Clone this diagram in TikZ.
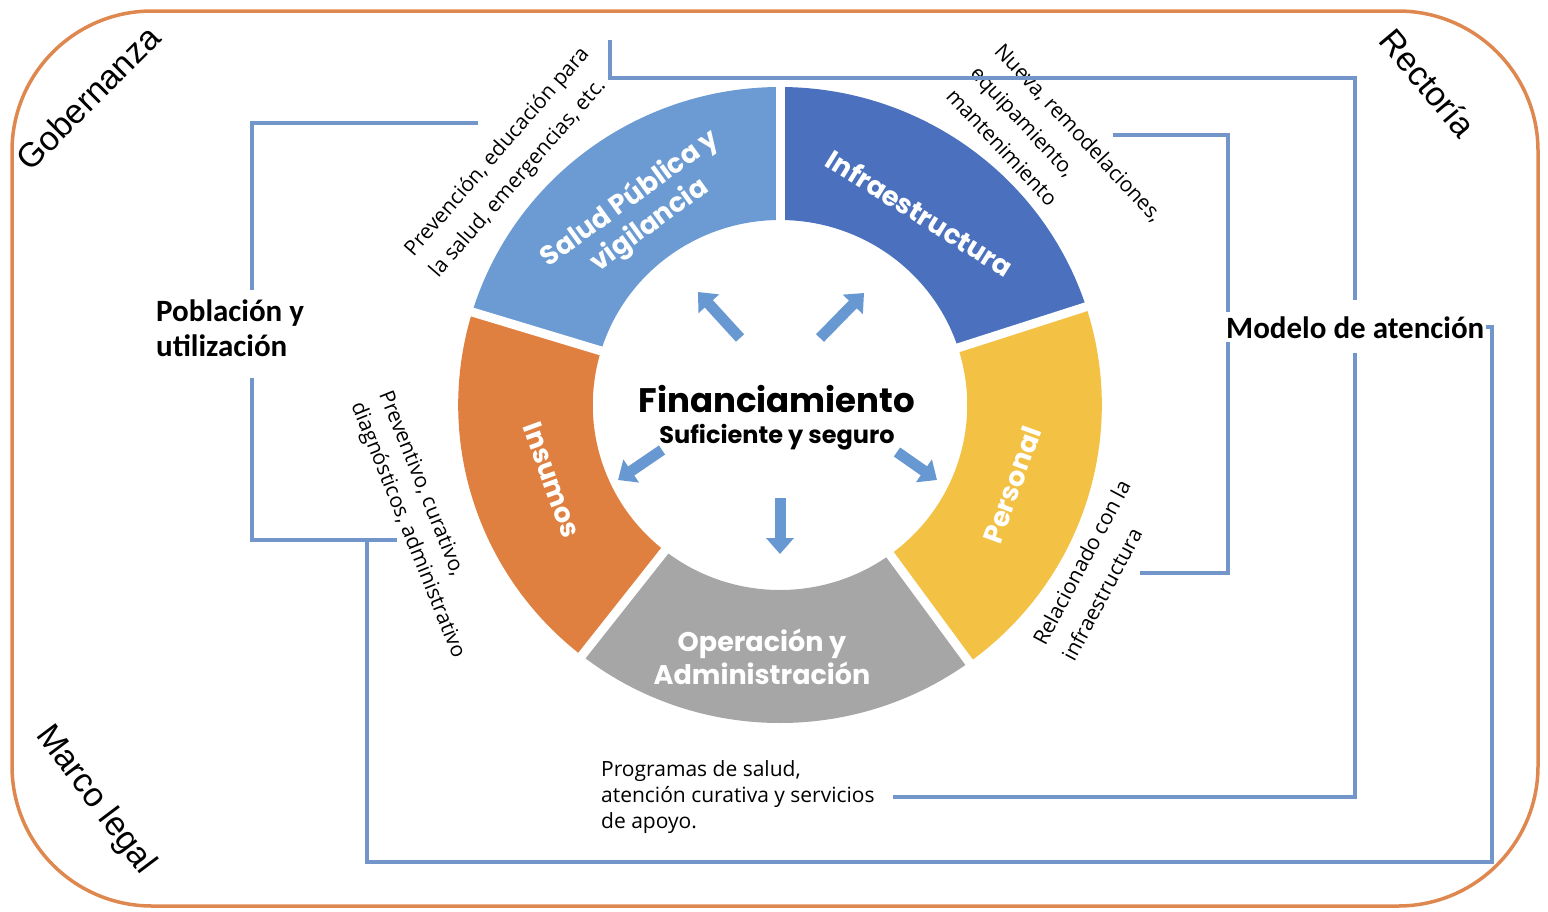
\documentclass[tikz,border=0pt]{standalone}
\usepackage{fontspec}
\setmainfont{Open Sans}
\newfontfamily\popfont{Poppins}
\newfontfamily\calfont{Carlito}
\newfontfamily\arialfont{Liberation Sans}
\usetikzlibrary{arrows.meta}

\definecolor{saludcol}{RGB}{107,155,210}
\definecolor{infracol}{RGB}{74,112,190}
\definecolor{personalcol}{RGB}{243,194,68}
\definecolor{opercol}{RGB}{166,166,166}
\definecolor{insumoscol}{RGB}{224,128,64}
\definecolor{linkcol}{RGB}{114,150,202}
\definecolor{framecol}{RGB}{222,136,80}
\definecolor{arrowcol}{RGB}{104,152,210}

\tikzset{
  segtext/.style={text=white, font=\popfont\bfseries\fontsize{27}{33}\selectfont,
                  align=center, inner sep=0},
  note/.style={font=\fontsize{21}{26}\selectfont, align=left, inner sep=0},
  slantnote/.style={note, font=\fontsize{21}{33}\selectfont},
  corner/.style={font=\arialfont\fontsize{34}{40}\selectfont, inner sep=0},
  keyword/.style={font=\calfont\bfseries\fontsize{31}{35}\selectfont,
                  align=left, inner sep=0},
  link/.style={draw=linkcol, line width=3.5pt},
  fatarrow/.style={draw=arrowcol, line width=11pt,
                   -{Triangle[width=27pt,length=16pt]}}
}

\begin{document}
\begin{tikzpicture}[x=1pt,y=-1pt]
    \useasboundingbox (0,0) rectangle (1548,911);

    % frame
    \draw[framecol, line width=3.5pt, rounded corners=140pt] (12,11) rectangle (1538,906);

    % ring
    \begin{scope}[shift={(780,405)}, x=1.012pt, y=1pt]
        \foreach \a/ \b/ \c in {18/90/infracol, 90/163/saludcol, 163/232/insumoscol,
                                232/306/opercol, 306/378/personalcol}
            \fill[\c] (\a:318) arc[start angle=\a, end angle=\b, radius=318]
                -- (\b:185) arc[start angle=\b, end angle=\a, radius=185] -- cycle;

        \foreach \a in {18,90,163,232,306}
            \draw[white, line width=9pt] (\a:170) -- (\a:330);
    \end{scope}

    % segment labels
    \node[segtext, rotate=36] (salud) at (640,212) {Salud Pública y\\vigilancia};
    \node[segtext, rotate=-32] (infra) at (920,213) {Infraestructura};
    \node[segtext, rotate=70] (personal) at (1012,485) {Personal};
    \node[segtext, rotate=-70] (insumos) at (552,480) {Insumos};
    \node[segtext] (oper) at (762,657) {Operación y\\Administración};

    % centre
    \node[font=\popfont\bfseries\fontsize{34}{40}\selectfont, inner sep=0] (fin) at (777,399) {Financiamiento};
    \node[font=\popfont\bfseries\fontsize{24}{28}\selectfont, inner sep=0] (seguro) at ([yshift=-38pt]fin.center) {Suficiente y seguro};

    \coordinate (ul) at (740,338);  \coordinate (ultip) at (698,292);
    \coordinate (ur) at (820,338);  \coordinate (urtip) at (864,293);
    \coordinate (le) at (662,450);  \coordinate (letip) at (618,480);
    \coordinate (ri) at (897,452);  \coordinate (ritip) at (937,480);
    \coordinate (do) at (780,498);  \coordinate (dotip) at (780,554);
    \foreach \s in {ul,ur,le,ri,do}
        \draw[fatarrow] (\s) -- (\s tip);

    % notes
    \node[slantnote, rotate=49] (prev) at (510,163) {Prevención, educación para\\la salud, emergencias, etc.};
    \node[slantnote, rotate=-47] (nueva) at (1055,155) {Nueva, remodelaciones,\\equipamiento,\\mantenimiento};
    \node[note, font=\fontsize{21}{30}\selectfont, rotate=-68] (preven) at (421,525) {Preventivo, curativo,\\diagnósticos, administrativo};
    \node[slantnote, rotate=62] (relac) at (1096,570) {Relacionado con la\\infraestructura};
    \node[note, anchor=north west] (prog) at (601,760) {Programas de salud,\\atención curativa y servicios\\de apoyo.};

    % keywords
    \node[keyword, anchor=west] (modelo) at (1226,328) {Modelo de atención};
    \node[keyword, anchor=north west] (pobl) at (156,300) {Población y\\utilización};

    % corners
    \node[corner, rotate=45] (gob) at (88,98) {Gobernanza};
    \node[corner, rotate=-50] (rect) at (1428,83) {Rectoría};
    \node[corner, rotate=-53] (marco) at (95,800) {Marco legal};

    % links
    \path[link] (610,40) -- (610,78) -- (1355,78) -- (1355,300);
    \path[link] (1355,353) -- (1355,797) -- (893,797);
    \path[link] (1113,135) -- (1228,135) -- (1228,312);
    \path[link] (1228,342) -- (1228,573) -- (1140,573);
    \path[link] (478,123) -- (252,123) -- (252,290);
    \path[link] (252,378) -- (252,540) -- (397,540);
    \path[link] (367,540) -- (367,862) -- (1492,862) -- (1492,327) -- (1486,327);

\end{tikzpicture}
\end{document}
